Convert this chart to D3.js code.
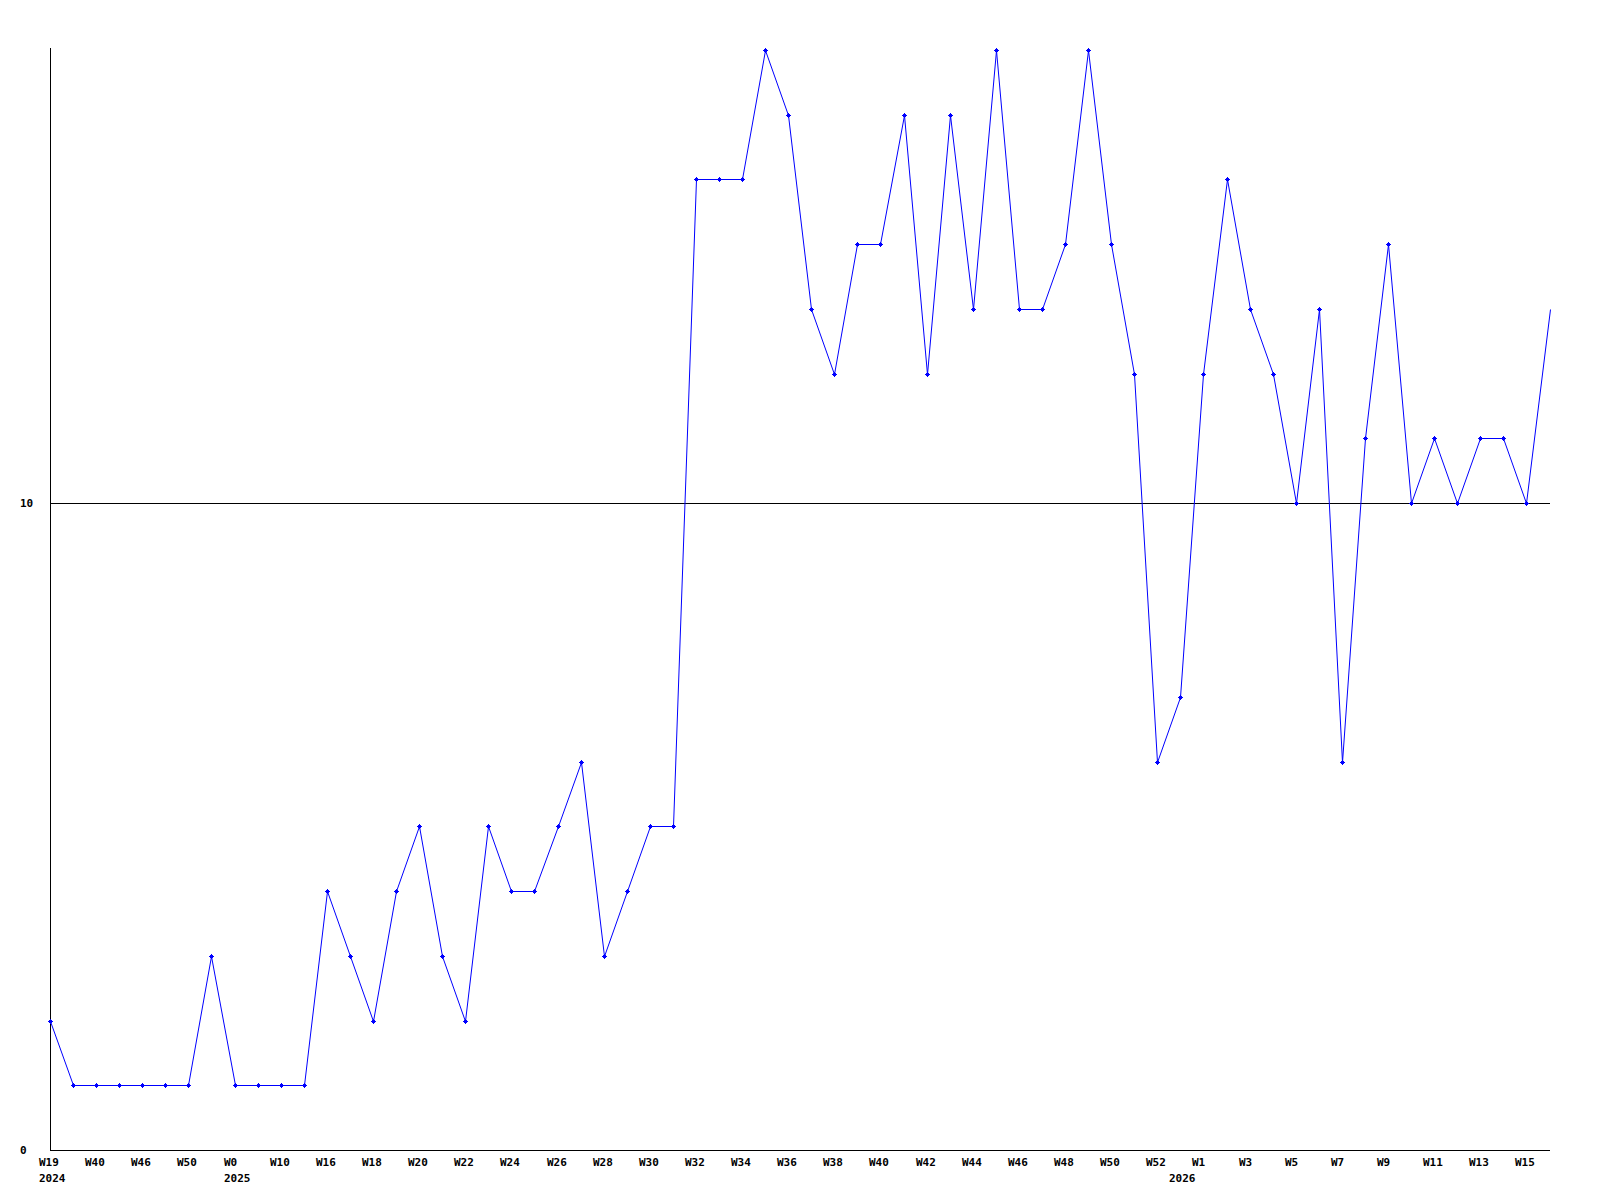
<!DOCTYPE html>
<html>
<head>
<meta charset="utf-8">
<script src="https://cdn.jsdelivr.net/npm/d3@7"></script>
<style>
  body { margin: 0; background: #fff; }
  svg { display: block; }
  text { font-family: "DejaVu Sans Mono", monospace; font-size: 11px; font-weight: bold; fill: #000; }
</style>
</head>
<body>
<div id="chart"></div>
<script>
// week labels, one every second point (blank = no label)
var weekLabels = [
  "W19","","W40","","W46","","W50","","W0","","W10","","W16","","W18","","W20","","W22","",
  "W24","","W26","","W28","","W30","","W32","","W34","","W36","","W38","","W40","","W42","",
  "W44","","W46","","W48","","W50","","W52","","W1","","W3","","W5","","W7","","W9","",
  "W11","","W13","","W15",""
];
var yearLabels = ["2024", "2025", "2026"];
var yearIndex = [0, 8, 49];

var values = [
  2,1,1,1,1,1,1,3,1,1,1,1,4,3,2,4,5,3,2,5,
  4,4,5,6,3,4,5,5,15,15,15,17,16,13,12,14,14,16,12,16,
  13,17,13,13,14,17,14,12,6,7,12,15,13,12,10,13,6,11,14,10,
  11,10,11,11,10,13
];
var yTicks = [0, 10];

var W = 1600, H = 1200;
var svg = d3.select("#chart").append("svg").attr("width", W).attr("height", H);

var x = d3.scaleLinear().domain([0, values.length - 1]).range([50, 1549.5]);
var y = d3.scaleLinear().domain([0, 17]).range([1150, 50]);

// axes and gridline
svg.append("line").attr("x1", 50.5).attr("x2", 50.5).attr("y1", 48).attr("y2", 1150)
  .attr("stroke", "#000").attr("shape-rendering", "crispEdges");
svg.selectAll(".grid").data(yTicks).enter().append("line")
  .attr("x1", 50).attr("x2", 1550)
  .attr("y1", function(d){ return Math.round(y(d)) + 0.5; })
  .attr("y2", function(d){ return Math.round(y(d)) + 0.5; })
  .attr("stroke", "#000").attr("shape-rendering", "crispEdges");

svg.selectAll(".ylab").data(yTicks).enter().append("text")
  .attr("x", 20).attr("y", function(d){ return y(d) + 4; })
  .text(function(d){ return d; });

svg.selectAll(".xlab").data(weekLabels).enter().append("text")
  .attr("x", function(d, i){ return Math.round(x(i)) - 11; })
  .attr("y", 1166)
  .text(function(d){ return d; });

svg.selectAll(".year").data(yearLabels).enter().append("text")
  .attr("x", function(d, i){ return Math.round(x(yearIndex[i])) - 11; })
  .attr("y", 1182)
  .text(function(d){ return d; });

// series
var line = d3.line()
  .x(function(d, i){ return Math.round(x(i)) + 0.5; })
  .y(function(d){ return Math.round(y(d)) + 0.5; });

svg.append("path").datum(values)
  .attr("d", line).attr("fill", "none").attr("stroke", "#0000ff").attr("stroke-width", 1);

var marks = svg.selectAll(".pt").data(values.slice(0, values.length - 1)).enter().append("g")
  .attr("transform", function(d, i){ return "translate(" + Math.round(x(i)) + "," + Math.round(y(d)) + ")"; });
marks.append("rect").attr("x", -2).attr("y", 0).attr("width", 5).attr("height", 1).attr("fill", "#0000ff");
marks.append("rect").attr("x", 0).attr("y", -2).attr("width", 1).attr("height", 5).attr("fill", "#0000ff");
marks.append("rect").attr("x", -1).attr("y", -1).attr("width", 3).attr("height", 3).attr("fill", "#0000ff");
</script>
</body>
</html>
